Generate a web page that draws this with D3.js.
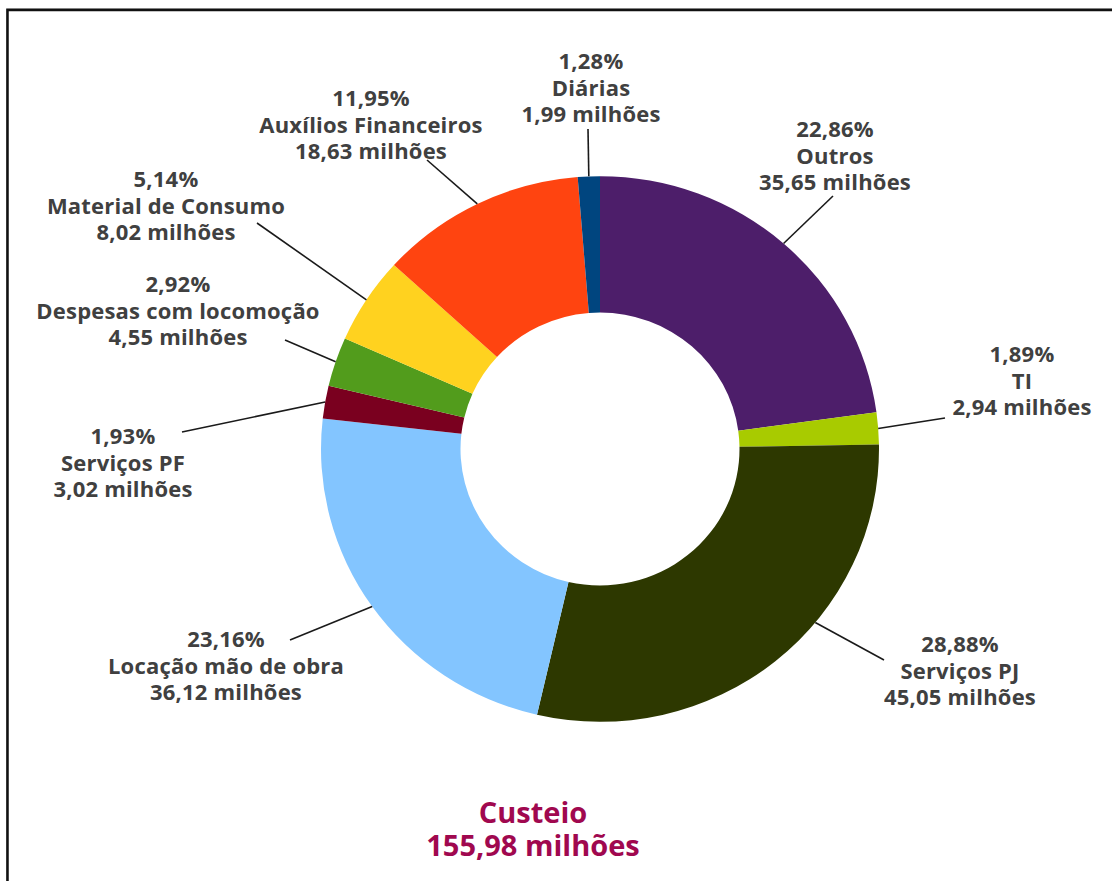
<!DOCTYPE html>
<html>
<head>
<meta charset="utf-8">
<script src="https://cdn.jsdelivr.net/npm/d3@7"></script>
<style>
  html, body { margin: 0; padding: 0; background: #fff; }
  svg { display: block; }
  text { font-family: "Open Sans", Lato, sans-serif; font-weight: bold; }
</style>
</head>
<body>
<svg id="chart" width="1112" height="881"></svg>
<script>
// ---- data ----
const categories = ["Outros", "TI", "Serviços PJ", "Locação mão de obra", "Serviços PF",
  "Despesas com locomoção", "Material de Consumo", "Auxílios Financeiros", "Diárias"];
const values = [35.65, 2.94, 45.05, 36.12, 3.02, 4.55, 8.02, 18.63, 1.99];        // milhões
const percents = ["22,86%", "1,89%", "28,88%", "23,16%", "1,93%", "2,92%", "5,14%", "11,95%", "1,28%"];
const valueLabels = ["35,65 milhões", "2,94 milhões", "45,05 milhões", "36,12 milhões", "3,02 milhões",
  "4,55 milhões", "8,02 milhões", "18,63 milhões", "1,99 milhões"];
const titleLines = ["Custeio", "155,98 milhões"];

// ---- styles / layout (kept apart from the data) ----
const colors = ["#4D1E6A", "#A8CB00", "#2D3800", "#83C5FF", "#7A001F",
  "#529C1C", "#FFD21F", "#FF4410", "#00457F"];
// label anchor: centre x, first baseline y; leader end point; optional leader angle (deg)
const labelPos = [[835, 137], [1022, 362], [960, 652], [226, 647], [123, 444],
  [178, 292], [166, 187], [371, 106], [591, 69]];
const leaderEnd = [[833, 196], [945, 418], [884, 660], [290, 640], [182, 432],
  [285, 340], [257, 223], [427, 160], [588, 129]];
const leaderAngle = [null, null, 129.5, null, null, null, null, null, null];

const W = 1112, H = 881;
const cx = 600, cy = 449, R = 279, ry = 0.978, r0 = R * 0.5;

const svg = d3.select("#chart");

// frame
svg.append("path").attr("d", `M6.5,${H} V8.5 H${W}`).attr("fill", "none")
  .attr("stroke", "#a8a8a8").attr("stroke-width", 1);
svg.append("path").attr("d", `M7.5,${H} V10 H${W}`).attr("fill", "none")
  .attr("stroke", "#111").attr("stroke-width", 2.5);

const data = categories.map((c, i) => ({ cat: c, value: values[i], i }));
const pie = d3.pie().value(d => d.value).sort(null).startAngle(0).endAngle(2 * Math.PI);
const arcs = pie(data);
const arc = d3.arc().innerRadius(r0).outerRadius(R);

const g = svg.append("g").attr("transform", `translate(${cx},${cy}) scale(1,${ry})`);
g.selectAll("path.slice").data(arcs).join("path")
  .attr("class", "slice")
  .attr("d", arc)
  .attr("fill", (d, i) => colors[i]);

// leaders
function edgePoint(d, i) {
  const a = leaderAngle[i] != null ? leaderAngle[i] * Math.PI / 180 : (d.startAngle + d.endAngle) / 2;
  return [cx + R * Math.sin(a), cy - R * ry * Math.cos(a)];
}
svg.selectAll("line.leader").data(arcs).join("line")
  .attr("class", "leader")
  .attr("x1", (d, i) => edgePoint(d, i)[0])
  .attr("y1", (d, i) => edgePoint(d, i)[1])
  .attr("x2", (d, i) => leaderEnd[i][0])
  .attr("y2", (d, i) => leaderEnd[i][1])
  .attr("stroke", "#1a1a1a").attr("stroke-width", 1.6);

// labels
const fs = 22, lh = 26.5;
const lab = svg.selectAll("text.lab").data(arcs).join("text")
  .attr("class", "lab")
  .attr("text-anchor", "middle")
  .attr("fill", "#404040")
  .attr("font-size", fs)
  .attr("letter-spacing", 0.2);
lab.each(function (d, i) {
  const t = d3.select(this);
  [percents[i], categories[i], valueLabels[i]].forEach((s, k) => {
    t.append("tspan").attr("x", labelPos[i][0]).attr("y", labelPos[i][1] + k * lh).text(s);
  });
});

// title
svg.append("text").attr("text-anchor", "middle").attr("fill", "#A0084F").attr("font-size", 29)
  .selectAll("tspan").data(titleLines).join("tspan")
  .attr("x", 533).attr("y", (d, k) => 823 + k * 32.5).text(d => d);
</script>
</body>
</html>
